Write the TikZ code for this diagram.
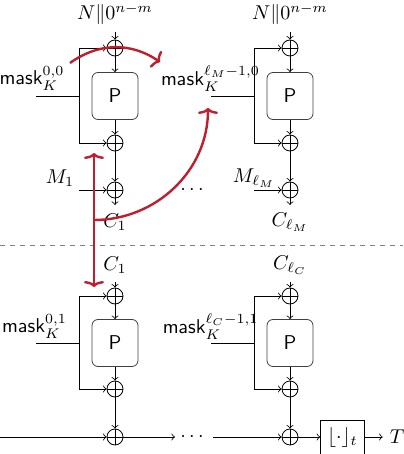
\documentclass[tikz,border=0pt]{standalone}
\usepackage{tikz}
\usetikzlibrary{positioning,arrows.meta}
\definecolor{darkred}{RGB}{190, 30, 45}
\tikzstyle{xorop} = [circle, draw, minimum size=8pt, inner sep=0pt, path picture={\draw (path picture bounding box.north) -- (path picture bounding box.south) (path picture bounding box.west) -- (path picture bounding box.east);}]
\tikzstyle{perm} = [rectangle, rounded corners=3pt, draw=black!75, minimum width=23pt, minimum height=23.5pt, font=\sffamily]
\tikzstyle{textonly} = [draw=none, fill=none, text centered]
\tikzstyle{tedge}  = [draw, >=to, ->]
\tikzstyle{redge}  = [draw=darkred, line width=1.2pt, >={Computer Modern Rightarrow[length=3pt,width=10pt]}]

\begin{document}
\begin{tikzpicture}[auto, on grid]
\useasboundingbox (-57.5pt,24pt) rectangle (144pt,-203pt);

% encryption part =============================

% nodes on the left
\node[xorop] (xa1) {};
\node[textonly, above=17pt of xa1] (nonce1) {$N\|0^{n-m}$};
\coordinate[above=8pt of xa1] (in1);
\node[perm, below=24pt of xa1] (P1) {P};
\node[xorop, below=23.5pt of P1] (xb1) {};
\node[xorop, below=23.5pt of xb1] (xc1) {};
\coordinate[below=7.5pt of xc1] (out1);
\node[textonly, below=16pt of xc1] (c1) {$C_1$};
\coordinate[left=18pt of xa1] (ma1);
\coordinate[left=18pt of xb1] (mb1);
\coordinate[left=18pt of P1] (mm1);
\coordinate[left=39.5pt of P1] (ms1);
\node[textonly, above left=8.75pt and 41.5pt of P1] (mask1) {$\mathsf{mask}_K^{0,0}$};
\coordinate[left=18pt of xc1] (mi1);
\node[textonly, above left=6pt and 27.5pt of xc1] (m1) {$M_1$};

% edges on the left
\path[tedge] (in1) -- (xa1);
\path[tedge] (xa1) -- (P1);
\path[tedge] (P1) -- (xb1);
\path[tedge] (xb1) -- (xc1);
\path[tedge] (xc1) -- (out1);
\draw (ma1) -- (mb1);
\draw (ms1) -- (mm1);
\path[tedge] (ma1) -- (xa1);
\path[tedge] (mb1) -- (xb1);
\path[tedge] (mi1) -- (xc1);

\node[textonly, right=38.5pt of xc1] (dots1) {$\cdots$};

% nodes on the right
\node[xorop, right=87.5pt of xa1] (xa2) {};
\node[textonly, above=17pt of xa2] (nonce2) {$N\|0^{n-m}$};
\coordinate[above=8pt of xa2] (in2);
\node[perm, below=24pt of xa2] (P2) {P};
\node[xorop, below=23.5pt of P2] (xb2) {};
\node[xorop, below=23.5pt of xb2] (xc2) {};
\coordinate[below=7.5pt of xc2] (out2);
\node[textonly, below=16pt of xc2] (cl) {$C_{\ell_M}$};
\coordinate[left=18pt of xa2] (ma2);
\coordinate[left=18pt of xb2] (mb2);
\coordinate[left=18pt of P2] (mm2);
\coordinate[left=39.5pt of P2] (ms2);
\node[textonly, above left=8.75pt and 39.75pt of P2] (mask2) {$\mathsf{mask}_K^{\ell_M-1,0}$};
\coordinate[left=18pt of xc2] (mi2);
\node[textonly, above left=6pt and 18pt of xc2] (ml) {$M_{\ell_M}$};

% edges on the right
\path[tedge] (in2) -- (xa2);
\path[tedge] (xa2) -- (P2);
\path[tedge] (P2) -- (xb2);
\path[tedge] (xb2) -- (xc2);
\path[tedge] (xc2) -- (out2);
\draw (ma2) -- (mb2);
\draw (ms2) -- (mm2);
\path[tedge] (ma2) -- (xa2);
\path[tedge] (mb2) -- (xb2);
\path[tedge] (mi2) -- (xc2);

% separator
\coordinate[below left=98.5pt and 57.5pt of xa1] (sepl);
\coordinate[right=201.5pt of sepl] (sepr);
\draw[gray, dash pattern=on 2.5pt off 2.5pt] (sepl) -- (sepr);

% tag part =============================

% nodes on the left
\node[xorop, below=124pt of xa1] (xa3) {};
\node[textonly, above=15.5pt of xa3] (c1b) {$C_1$};
\coordinate[above=7pt of xa3] (in3);
\node[perm, below=23.5pt of xa3] (P3) {P};
\node[xorop, below=23pt of P3] (xb3) {};
\node[xorop, below=24pt of xb3] (xd1) {};
\coordinate[left=18pt of xa3] (ma3);
\coordinate[left=18pt of xb3] (mb3);
\coordinate[left=18pt of P3] (mm3);
\coordinate[left=39.5pt of P3] (ms3);
\node[textonly, above left=8.25pt and 40.25pt of P3] (mask3) {$\mathsf{mask}_K^{0,1}$};
\coordinate[left=57.5pt of xd1] (tin);
\coordinate[right=30pt of xd1] (tmid1);
\node[textonly, right=38.5pt of xd1] (dots2) {$\cdots$};

% edges on the left
\path[tedge] (in3) -- (xa3);
\path[tedge] (xa3) -- (P3);
\path[tedge] (P3) -- (xb3);
\path[tedge] (xb3) -- (xd1);
\draw (ma3) -- (mb3);
\draw (ms3) -- (mm3);
\path[tedge] (ma3) -- (xa3);
\path[tedge] (mb3) -- (xb3);
\path[tedge] (tin) -- (xd1);
\path[tedge] (xd1) -- (tmid1);

% nodes on the right
\node[xorop, right=87.5pt of xa3] (xa4) {};
\node[textonly, above=15.5pt of xa4] (clc) {$C_{\ell_C}$};
\coordinate[above=7pt of xa4] (in4);
\node[perm, below=23.5pt of xa4] (P4) {P};
\node[xorop, below=23pt of P4] (xb4) {};
\node[xorop, below=24pt of xb4] (xd2) {};
\coordinate[left=18pt of xa4] (ma4);
\coordinate[left=18pt of xb4] (mb4);
\coordinate[left=18pt of P4] (mm4);
\coordinate[left=39.5pt of P4] (ms4);
\node[textonly, above left=8.25pt and 39.75pt of P4] (mask4) {$\mathsf{mask}_K^{\ell_C-1,1}$};
\coordinate[left=38.5pt of xd2] (tmid2);
\node[draw, minimum width=19.5pt, minimum height=17pt, right=26.25pt of xd2] (trunc) {$\lfloor\cdot\rfloor_t$};
\node[textonly, right=53.5pt of xd2] (tag) {$T$};

% edges on the right
\path[tedge] (in4) -- (xa4);
\path[tedge] (xa4) -- (P4);
\path[tedge] (P4) -- (xb4);
\path[tedge] (xb4) -- (xd2);
\draw (ma4) -- (mb4);
\draw (ms4) -- (mm4);
\path[tedge] (ma4) -- (xa4);
\path[tedge] (mb4) -- (xb4);
\path[tedge] (tmid2) -- (xd2);
\path[tedge] (xd2) -- (trunc);
\path[tedge] (trunc) -- (tag);

% red arrows =============================
\coordinate[below left=7.5pt and 22.5pt of xa1] (ra1);
\coordinate[below right=7pt and 22.5pt of xa1] (ra2);
\coordinate[below left=5pt and 10.5pt of xb1] (rv1);
\coordinate[above left=4.5pt and 10.5pt of xa3] (rv2);
\coordinate[below left=15pt and 10.5pt of xc1] (rc1);
\coordinate[below left=6pt and 41pt of P2] (rc2);
\path[redge, ->] (ra1) to[bend left=35] (ra2);
\path[redge, <->] (rv1) -- (rv2);
\path[redge, ->] (rc1) to[out=0, in=-90] (rc2);

\end{tikzpicture}
\end{document}
